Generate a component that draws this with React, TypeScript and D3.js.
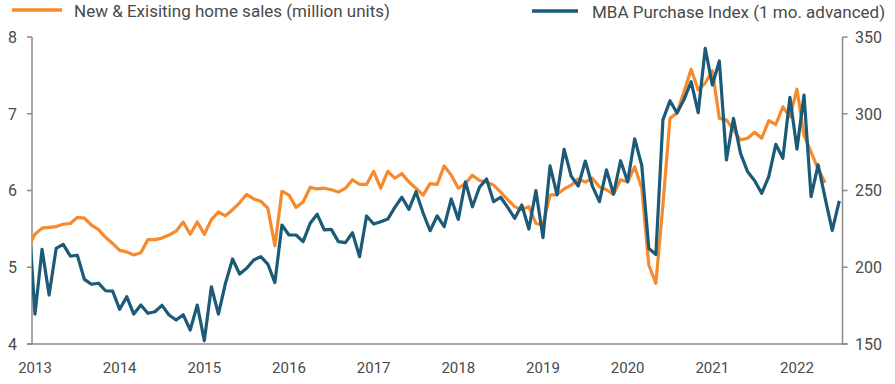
import React from "react";
import * as d3 from "d3";

// month index 0 = Dec 2012, 1 = Jan 2013 ...
const startYear = 2013;
const yearLabels = ["2013", "2014", "2015", "2016", "2017", "2018", "2019", "2020", "2021", "2022"];
const leftTicks = [4, 5, 6, 7, 8];
const rightTicks = [150, 200, 250, 300, 350];

const homeSales = [
  5.26, 5.43, 5.51, 5.52, 5.53, 5.56, 5.57, 5.65, 5.64, 5.55, 5.49, 5.39, 5.31,
  5.22, 5.2, 5.16, 5.19, 5.36, 5.36, 5.38, 5.42, 5.47, 5.59, 5.43, 5.59,
  5.43, 5.62, 5.72, 5.67, 5.75, 5.84, 5.95, 5.89, 5.86, 5.77, 5.28, 5.99,
  5.94, 5.78, 5.85, 6.04, 6.02, 6.03, 6.01, 5.98, 6.03, 6.14, 6.08, 6.08,
  6.25, 6.03, 6.25, 6.16, 6.22, 6.11, 6.03, 5.94, 6.09, 6.08, 6.32, 6.2,
  6.03, 6.09, 6.2, 6.13, 6.11, 6.07, 5.98, 5.88, 5.79, 5.75, 5.79, 5.57,
  5.55, 5.94, 5.95, 6.02, 6.07, 6.15, 6.11, 6.16, 6.05, 6.01, 5.95, 6.14,
  6.11, 6.31, 6.03, 5.03, 4.79, 5.81, 6.94, 7.01, 7.29, 7.58, 7.31, 7.4,
  7.56, 6.94, 6.92, 6.79, 6.66, 6.68, 6.76, 6.68, 6.91, 6.86, 7.09, 6.96,
  7.32, 6.72, 6.5, 6.28, 6.1,
];

const mbaIndex = [
  240, 169.5, 211.7, 181.9, 212.3, 214.9, 207.3, 207.8, 192.1, 188.9, 189.6, 184.7, 184.5,
  172.6, 180.8, 169.5, 175.4, 170.0, 171.0, 175.2, 168.9, 165.6, 169.1, 159.1, 175.4,
  152.2, 187.3, 169.5, 189.6, 205.4, 195.6, 199.3, 204.7, 206.9, 202.1, 190.0, 227.5,
  221.0, 221.0, 216.7, 228.6, 234.5, 224.3, 224.7, 216.7, 216.0, 222.5, 206.9, 233.4,
  228.2, 229.7, 231.4, 239.0, 245.6, 237.7, 249.2, 235.5, 223.8, 233.4, 226.4, 244.5,
  231.2, 255.7, 239.4, 252.1, 257.5, 242.7, 245.6, 239.0, 231.9, 240.6, 224.9, 249.9,
  219.3, 266.0, 247.1, 276.8, 259.4, 252.9, 269.2, 252.9, 242.7, 263.4, 247.7, 269.4,
  255.7, 283.7, 266.3, 212.3, 208.3, 296.0, 308.5, 300.5, 309.4, 320.9, 300.7, 342.6,
  318.7, 334.4, 269.9, 297.0, 274.2, 262.3, 256.4, 248.2, 259.0, 280.1, 271.0, 310.7,
  277.0, 312.2, 246.0, 266.8, 244.9, 224.0, 243.2,
];

const ORANGE = "#F68A2C";
const BLUE = "#1B5B78";
const TEXT = "#4a4a4a";
const AXIS = "#8a8a8a";
const FONT = "Roboto, 'Open Sans', sans-serif";

export default function App() {
  const W = 895;
  const H = 384;
  const left = 32;
  const right = 842.5;
  const top = 37;
  const bottom = 344;

  const x = d3.scaleLinear().domain([1, 115]).range([35, 839.3]);
  const yL = d3.scaleLinear().domain([4, 8]).range([bottom, top]);
  const yR = d3.scaleLinear().domain([150, 350]).range([bottom, top]);

  const lineL = d3
    .line<number>()
    .x((_, i) => x(i))
    .y((d) => yL(d));
  const lineR = d3
    .line<number>()
    .x((_, i) => x(i))
    .y((d) => yR(d));

  return (
    <svg width={W} height={H} style={{ display: "block", position: "absolute", left: 0, top: 0 }}>
      <defs>
        <clipPath id="plotclip">
          <rect x={left} y={0} width={right - left} height={H} />
        </clipPath>
      </defs>
      <rect x={0} y={0} width={W} height={H} fill="#fff" />

      {/* legend */}
      <line x1={12} x2={62} y1={10} y2={10} stroke={ORANGE} strokeWidth={3.5} />
      <text x={74} y={16.5} fontFamily={FONT} fontSize={17} fill={TEXT}>
        New &amp; Exisiting home sales (million units)
      </text>
      <line x1={532} x2={578} y1={11} y2={11} stroke={BLUE} strokeWidth={3.5} />
      <text x={592} y={17.5} fontFamily={FONT} fontSize={17} fill={TEXT}>
        MBA Purchase Index (1 mo. advanced)
      </text>

      {/* axes */}
      <line x1={left} x2={left} y1={top} y2={bottom} stroke={AXIS} strokeWidth={1.5} />
      <line x1={right} x2={right} y1={top} y2={bottom} stroke={AXIS} strokeWidth={1.5} />
      <line x1={left - 5} x2={right + 5} y1={bottom} y2={bottom} stroke={AXIS} strokeWidth={1.5} />
      {leftTicks.map((t) => (
        <g key={"l" + t}>
          <line x1={left - 5} x2={left} y1={yL(t)} y2={yL(t)} stroke={AXIS} strokeWidth={1.5} />
          <text x={17} y={yL(t)} dy="0.36em" textAnchor="end" fontFamily={FONT} fontSize={16} fill={TEXT}>
            {t}
          </text>
        </g>
      ))}
      {rightTicks.map((t) => (
        <g key={"r" + t}>
          <line x1={right} x2={right + 5} y1={yR(t)} y2={yR(t)} stroke={AXIS} strokeWidth={1.5} />
          <text x={855} y={yR(t)} dy="0.36em" textAnchor="start" fontFamily={FONT} fontSize={16} fill={TEXT}>
            {t}
          </text>
        </g>
      ))}
      {yearLabels.map((lab) => (
        <text
          key={lab}
          x={x(1 + 12 * (Number(lab) - startYear))}
          y={373}
          textAnchor="middle"
          fontFamily={FONT}
          fontSize={15}
          fill={TEXT}
        >
          {lab}
        </text>
      ))}

      <g clipPath="url(#plotclip)">
        <path d={lineL(homeSales) || ""} fill="none" stroke={ORANGE} strokeWidth={3.2} strokeLinejoin="round" />
        <path d={lineR(mbaIndex) || ""} fill="none" stroke={BLUE} strokeWidth={3.2} strokeLinejoin="round" />
      </g>
    </svg>
  );
}
